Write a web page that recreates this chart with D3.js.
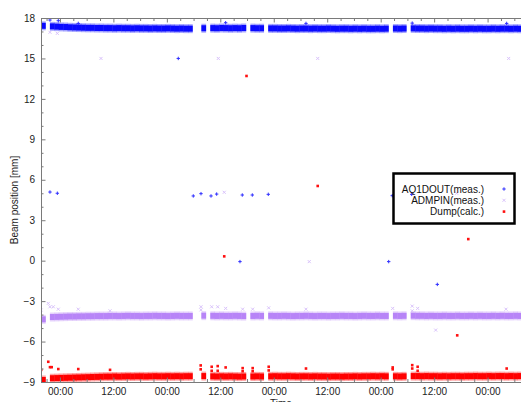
<!DOCTYPE html>
<html><head><meta charset="utf-8">
<script src="https://cdn.jsdelivr.net/npm/d3@7"></script>
<style>body{margin:0;background:#fff}svg{display:block}text{font-family:"Liberation Sans",Arial,sans-serif}</style>
</head><body><svg id="c" width="521" height="402"></svg>
<script>
// ---------- data ----------
const timeDomain = ["2012-01-01 19:45", "2012-01-06 07:30"];
const bandStart = "2012-01-01 19:45";   // dense data, one value per hour (null = no data)
const bandStepHours = 1;
const aq1doutBand = [17.42,null,
 17.38,17.36,17.34,17.33,17.31,17.30,17.29,17.28,17.27,17.27,17.26,17.26,
 17.25,17.25,17.24,17.25,17.24,17.24,17.23,17.24,17.23,17.23,17.22,17.23,17.22,17.22,17.23,17.22,17.21,17.22,17.21,17.21,
 null,null,17.24,null,
 17.25,17.24,17.26,17.25,17.24,17.25,17.24,17.26,null,
 17.25,17.24,17.24,null,
 17.23,17.23,17.22,17.22,17.23,17.22,17.21,17.22,17.22,17.21,17.22,17.21,17.21,17.22,17.21,17.20,17.21,17.21,17.20,17.21,17.20,17.21,17.20,17.20,17.21,17.20,17.21,
 null,17.22,17.21,17.22,null,
 17.23,17.22,17.22,17.21,17.22,17.21,17.21,17.20,17.21,17.20,17.21,17.20,17.20,17.21,17.20,17.21,17.20,17.20,17.21,17.20,17.21,17.21,17.20,17.21,17.20];
const admpinBand = [-4.35,null,
 -4.18,-4.17,-4.16,-4.15,-4.14,-4.14,-4.13,-4.13,-4.12,-4.12,-4.11,-4.11,
 -4.11,-4.10,-4.10,-4.11,-4.10,-4.09,-4.10,-4.10,-4.11,-4.10,-4.10,-4.09,-4.10,-4.10,-4.11,-4.10,-4.09,-4.10,-4.10,-4.10,
 null,null,-4.08,null,
 -4.09,-4.10,-4.09,-4.10,-4.10,-4.09,-4.10,-4.11,null,
 -4.10,-4.09,-4.10,null,
 -4.09,-4.10,-4.10,-4.09,-4.10,-4.11,-4.10,-4.10,-4.09,-4.10,-4.11,-4.10,-4.10,-4.11,-4.10,-4.10,-4.09,-4.10,-4.10,-4.11,-4.10,-4.09,-4.10,-4.10,-4.09,-4.10,-4.10,
 null,-4.09,-4.10,-4.09,null,
 -4.08,-4.09,-4.09,-4.10,-4.09,-4.10,-4.10,-4.09,-4.10,-4.10,-4.09,-4.10,-4.10,-4.09,-4.10,-4.09,-4.10,-4.10,-4.09,-4.10,-4.09,-4.10,-4.10,-4.09,-4.10];
const dumpBand = [-8.85,null,
 -8.72,-8.71,-8.70,-8.69,-8.68,-8.67,-8.66,-8.65,-8.64,-8.63,-8.62,-8.61,
 -8.60,-8.60,-8.59,-8.60,-8.59,-8.58,-8.59,-8.58,-8.58,-8.59,-8.58,-8.57,-8.58,-8.58,-8.57,-8.58,-8.57,-8.58,-8.57,-8.57,
 null,null,-8.56,null,
 -8.58,-8.59,-8.58,-8.59,-8.58,-8.59,-8.60,-8.59,null,
 -8.59,-8.58,-8.59,null,
 -8.58,-8.57,-8.58,-8.58,-8.57,-8.58,-8.59,-8.58,-8.58,-8.59,-8.58,-8.59,-8.59,-8.60,-8.59,-8.59,-8.60,-8.59,-8.59,-8.58,-8.59,-8.58,-8.58,-8.57,-8.58,-8.57,-8.58,
 null,-8.58,-8.59,-8.58,null,
 -8.56,-8.56,-8.57,-8.56,-8.57,-8.57,-8.58,-8.57,-8.58,-8.57,-8.57,-8.58,-8.57,-8.57,-8.56,-8.57,-8.57,-8.56,-8.57,-8.56,-8.56,-8.57,-8.56,-8.57,-8.56];

// isolated points [time, value]
const aq1doutPoints = [
 ["2012-01-01 21:46",5.09],["2012-01-01 23:25",5.00],["2012-01-03 02:34",15.0],
 ["2012-01-03 05:56",4.80],["2012-01-03 07:40",4.97],["2012-01-03 09:55",4.80],
 ["2012-01-03 11:11",4.94],["2012-01-03 16:25",-0.07],["2012-01-03 16:56",4.87],
 ["2012-01-03 19:11",4.87],["2012-01-03 22:46",4.92],["2012-01-05 01:48",-0.07],
 ["2012-01-05 02:36",4.82],["2012-01-05 06:58",4.92],["2012-01-05 12:43",-1.76],
 ["2012-01-01 21:46",17.85],["2012-01-01 23:38",17.80],["2012-01-02 04:07",17.60],
 ["2012-01-03 13:12",17.65],["2012-01-04 07:14",17.60],["2012-01-05 07:05",17.62],["2012-01-06 04:17",17.60]];
const admpinPoints = [
 ["2012-01-01 21:46",16.94],["2012-01-01 23:25",16.86],
 ["2012-01-02 09:13",15.0],["2012-01-03 11:33",15.0],["2012-01-04 09:52",15.0],["2012-01-06 04:44",15.0],
 ["2012-01-03 12:53",5.07],["2012-01-05 17:04",5.00],["2012-01-04 07:58",-0.07],["2012-01-05 12:21",-5.15],
 ["2012-01-01 19:47",-3.66],["2012-01-01 21:23",-3.17],["2012-01-01 21:46",-3.42],["2012-01-01 22:31",-3.42],
 ["2012-01-01 23:38",-3.60],["2012-01-02 04:07",-3.60],["2012-01-02 11:15",-3.72],["2012-01-03 07:40",-3.42],
 ["2012-01-03 07:40",-3.65],["2012-01-03 10:04",-3.42],["2012-01-03 11:25",-3.42],["2012-01-03 13:12",-3.54],
 ["2012-01-03 17:01",-3.60],["2012-01-03 19:16",-3.60],["2012-01-03 22:52",-3.50],["2012-01-04 07:14",-3.60],
 ["2012-01-05 02:42",-3.54],["2012-01-05 07:05",-3.37],["2012-01-05 07:05",-3.72],["2012-01-05 08:18",-3.54],
 ["2012-01-06 04:08",-3.60]];
const dumpPoints = [
 ["2012-01-03 17:53",13.7],["2012-01-04 09:52",5.54],["2012-01-03 12:53",0.32],
 ["2012-01-05 19:40",1.60],["2012-01-05 17:11",-5.54],
 ["2012-01-01 19:47",-8.10],["2012-01-01 21:23",-7.50],["2012-01-01 21:46",-7.90],["2012-01-01 22:09",-7.90],
 ["2012-01-01 23:38",-8.04],["2012-01-02 04:07",-8.04],["2012-01-02 11:15",-8.10],["2012-01-03 07:36",-7.77],
 ["2012-01-03 07:36",-8.06],["2012-01-03 10:04",-7.87],["2012-01-03 10:04",-8.17],["2012-01-03 11:25",-7.82],
 ["2012-01-03 11:25",-8.17],["2012-01-03 13:12",-7.92],["2012-01-03 17:01",-7.97],["2012-01-03 17:01",-8.20],
 ["2012-01-03 19:16",-7.97],["2012-01-03 19:16",-8.20],["2012-01-03 22:52",-7.87],["2012-01-03 22:52",-8.14],
 ["2012-01-04 07:14",-8.00],["2012-01-05 02:42",-7.92],["2012-01-05 02:42",-8.06],["2012-01-05 07:05",-7.75],
 ["2012-01-05 07:05",-8.00],["2012-01-05 08:18",-7.87],["2012-01-05 08:18",-8.17],["2012-01-06 04:17",-8.00]];

const seriesNames = ["AQ1DOUT(meas.)", "ADMPIN(meas.)", "Dump(calc.)"];
const yDomain = [-9, 18];
const yMajorTicks = [-9,-6,-3,0,3,6,9,12,15,18];
const xLabelFormat = "%H:%M";
const xTitle = "Time";
const yTitle = "Beam position [mm]";

// ---------- drawing ----------
const parse = d3.timeParse("%Y-%m-%d %H:%M");
const L = 41, R = 521, T = 18, B = 382;
const FS = "10px";
const svg = d3.select("#c");
const x = d3.scaleTime().domain(timeDomain.map(parse)).range([L, R]);
const y = d3.scaleLinear().domain(yDomain).range([B, T]);

svg.append("defs").append("clipPath").attr("id","clip")
  .append("rect").attr("x",L).attr("y",T).attr("width",R-L).attr("height",B-T);
const plot = svg.append("g").attr("clip-path","url(#clip)");

const series = [
  {band: dumpBand, pts: dumpPoints, color:"#ff0000", ptColor:"#ff1010", marker:"square"},
  {band: admpinBand, pts: admpinPoints, color:"#b784f7", ptColor:"#d9c2fb", marker:"x"},
  {band: aq1doutBand, pts: aq1doutPoints, color:"#0a0aff", ptColor:"#3030ff", marker:"plus"}
];
const t0 = parse(bandStart);

series.forEach(s => {
  const bins = s.band.map((v,i)=>({v, a:d3.timeMinute.offset(t0, i*bandStepHours*60), b:d3.timeMinute.offset(t0,(i+1)*bandStepHours*60)}))
    .filter(d=>d.v!==null);
  const g = plot.append("g");
  g.selectAll("rect.o").data(bins).join("rect")
    .attr("x",d=>x(d.a)).attr("width",d=>x(d.b)-x(d.a)+0.3)
    .attr("y",d=>y(d.v)-4.5).attr("height",9)
    .attr("fill",s.color).attr("opacity",0.35);
  g.selectAll("rect.i").data(bins).join("rect")
    .attr("x",d=>x(d.a)).attr("width",d=>x(d.b)-x(d.a)+0.3)
    .attr("y",d=>y(d.v)-3).attr("height",6)
    .attr("fill",s.color);
});

function drawMarker(g, type, cx, cy, color){
  if(type==="square"){
    g.append("rect").attr("x",cx-1.3).attr("y",cy-1.3).attr("width",2.6).attr("height",2.6).attr("fill",color);
  } else if(type==="plus"){
    g.append("path").attr("d",`M${cx-1.7},${cy}H${cx+1.7}M${cx},${cy-1.7}V${cy+1.7}`).attr("stroke",color).attr("stroke-width",1).attr("fill","none");
  } else {
    g.append("path").attr("d",`M${cx-1.5},${cy-1.5}L${cx+1.5},${cy+1.5}M${cx-1.5},${cy+1.5}L${cx+1.5},${cy-1.5}`).attr("stroke",color).attr("stroke-width",1).attr("fill","none");
  }
}
series.forEach(s => {
  const g = plot.append("g");
  s.pts.forEach(p => drawMarker(g, s.marker, x(parse(p[0])), y(p[1]), s.ptColor));
});

// axes
const axisColor = "#7a7a7a";
function styleAxis(g){
  g.selectAll(".domain").attr("stroke",axisColor);
  g.selectAll(".tick line").attr("stroke",axisColor);
  g.selectAll(".tick text").attr("fill","#222").style("font-size",FS).style("font-family",'"Liberation Sans",Arial,sans-serif');
}
const yMinor = d3.range(yDomain[0], yDomain[1]+1, 1).filter(v=>!yMajorTicks.includes(v));
const gyMinor = svg.append("g").attr("transform",`translate(${L},0)`)
  .call(d3.axisLeft(y).tickValues(yMinor).tickSize(-2.5).tickFormat(""));
gyMinor.select(".domain").remove(); styleAxis(gyMinor);
const gy = svg.append("g").attr("transform",`translate(${L},0)`)
  .call(d3.axisLeft(y).tickValues(yMajorTicks).tickSize(-4.5).tickSizeOuter(0).tickPadding(6).tickFormat(d3.format("d")));
styleAxis(gy);

const xMinor = d3.timeHour.every(3).range(...x.domain()).filter(d=>d.getHours()%12!==0);
[[B, -1],[T, 1]].forEach(([py, dir])=>{
  const mk = dir<0 ? d3.axisBottom : d3.axisTop;
  const gm = svg.append("g").attr("transform",`translate(0,${py})`)
    .call(mk(x).tickValues(xMinor).tickSize(-3).tickFormat(""));
  gm.select(".domain").remove(); styleAxis(gm);
});
const gx = svg.append("g").attr("transform",`translate(0,${B})`)
  .call(d3.axisBottom(x).ticks(d3.timeHour.every(12)).tickSize(-4.5).tickSizeOuter(0).tickPadding(6).tickFormat(d3.timeFormat(xLabelFormat)));
styleAxis(gx);
const gxt = svg.append("g").attr("transform",`translate(0,${T})`)
  .call(d3.axisTop(x).ticks(d3.timeHour.every(12)).tickSize(-4.5).tickSizeOuter(0).tickFormat(""));
styleAxis(gxt);

svg.append("text").attr("x",(L+R)/2).attr("y",407).attr("text-anchor","middle")
  .style("font-size",FS).attr("fill","#222").text(xTitle);
svg.append("text").attr("transform",`translate(18,${(T+B)/2}) rotate(-90)`).attr("text-anchor","middle")
  .style("font-size",FS).attr("fill","#222").text(yTitle);

// legend
const lg = svg.append("g");
lg.append("rect").attr("x",393.5).attr("y",173.5).attr("width",121).attr("height",50)
  .attr("fill","none").attr("stroke","#000").attr("stroke-width",2.5);
const legendItems = [
  {name: seriesNames[0], s: series[2]},
  {name: seriesNames[1], s: series[1]},
  {name: seriesNames[2], s: series[0]}
];
legendItems.forEach((it,i)=>{
  const cy = 189 + i*11.3;
  lg.append("text").attr("x",484).attr("y",cy+3.6).attr("text-anchor","end")
    .style("font-size",FS).attr("fill","#111").text(it.name);
  drawMarker(lg, it.s.marker, 504, cy, it.s.ptColor);
});
</script></body></html>
